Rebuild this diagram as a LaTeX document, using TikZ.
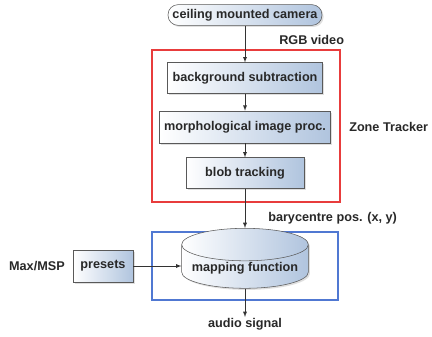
\documentclass[tikz,border=0pt]{standalone}
\usepackage{fontspec}
\setmainfont{Liberation Sans}
\usepackage{tikz}
\usetikzlibrary{arrows,shapes.geometric,shadows}

\definecolor{boxblue}{RGB}{176,196,222}
\definecolor{redline}{RGB}{232,60,60}
\definecolor{blueline}{RGB}{80,120,210}
\definecolor{textgray}{RGB}{40,40,40}

\tikzset{
  stage/.style={draw=gray!70!black, rectangle, minimum height=23pt, inner sep=0.75pt,
    left color=white, right color=boxblue,
    drop shadow={shadow xshift=1.2pt, shadow yshift=-1.2pt, fill=gray!50},
    font=\fontsize{9.5}{11}\bfseries, text=textgray},
  lbl/.style={inner sep=0.75pt, font=\fontsize{9.5}{11}\bfseries, text=textgray},
  flow/.style={draw=black!80, -latex, thin}
}

\begin{document}
\begin{tikzpicture}[x=0.75pt,y=0.75pt,yscale=-1,xscale=1]
\useasboundingbox (0,0) rectangle (432,336);

%Frames
\draw[redline, line width=0.9pt] (152,50) rectangle (340,202);
\draw[blueline, line width=0.9pt] (152,232) rectangle (338,300);

%Camera
\node[stage, rounded corners=7.5pt, minimum width=115.5pt, minimum height=15.5pt] (camera) at (245,15) {ceiling mounted camera};

%Zone tracker steps
\node[stage, minimum width=116pt] (bgsub) at (245,78) {background subtraction};
\node[stage, minimum width=128pt, minimum height=24pt] (morph) at (245,127) {morphological image proc.};
\node[stage, minimum width=88.5pt] (blob) at (245,173) {blob tracking};

%Mapping
\node[stage, cylinder, shape border rotate=90, aspect=0.3, minimum width=95pt, minimum height=34pt] (mapping) at (245,268) {mapping function};
\node[stage, minimum width=45pt, minimum height=24pt] (presets) at (103,266) {presets};
\coordinate (audio) at (245,317);

% Text Node
\node[lbl, anchor=west] (rgb) at (278,40) {RGB video};
\node[lbl, anchor=west] (zone) at (348,127) {Zone Tracker};
\node[lbl, anchor=west] (bary) at (267,218) {barycentre pos. (x, y)};
\node[lbl, anchor=east] (maxmsp) at (66,266) {Max/MSP};
\node[lbl, anchor=north] (signal) at (245,317) {audio signal};

%Connectors
\draw[flow] (camera) -- (bgsub);
\draw[flow] (bgsub) -- (morph);
\draw[flow] (morph) -- (blob);
\draw[flow] (blob) -- (mapping.top);
\draw[flow] (presets) -- (presets -| mapping.west);
\draw[flow] (mapping.bottom) -- (audio);

\end{tikzpicture}
\end{document}
